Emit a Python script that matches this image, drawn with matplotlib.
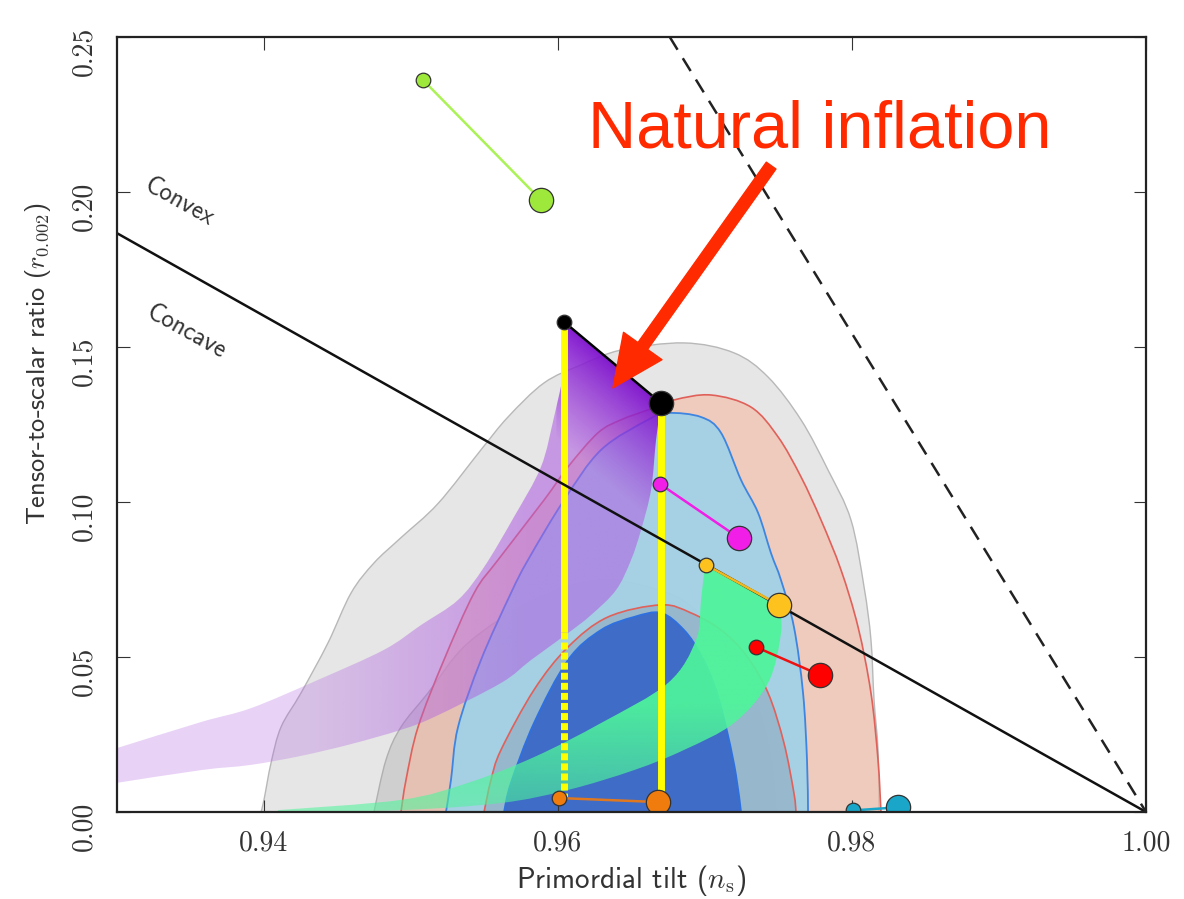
import numpy as np
import matplotlib
matplotlib.use('Agg')
import matplotlib.pyplot as plt
from matplotlib.colors import to_rgba
from matplotlib.path import Path
from matplotlib.patches import PathPatch, FancyArrowPatch, ArrowStyle

plt.rcParams['mathtext.fontset'] = 'cm'

# axis ticks
ns_ticks = [0.94, 0.96, 0.98, 1.00]
ns_tick_labels = ['0.94', '0.96', '0.98', '1.00']
r_ticks = [0.00, 0.05, 0.10, 0.15, 0.20, 0.25]
r_tick_labels = ['0.00', '0.05', '0.10', '0.15', '0.20', '0.25']

# confidence contours (outline from bottom-left round to bottom-right)
gray95_ns = [0.9398, 0.9400, 0.94048, 0.94116, 0.94252, 0.94435, 0.94592, 0.94748, 0.9493, 0.95184,
             0.95476, 0.9566, 0.95905, 0.96156, 0.96429, 0.96857, 0.97197, 0.97429, 0.97653, 0.97837,
             0.97993, 0.98082, 0.98129, 0.9815, 0.98177, 0.98184]
gray95_r = [0.0, 0.0039, 0.0158, 0.0274, 0.0384, 0.0545, 0.0706, 0.0803, 0.0884, 0.0995,
            0.1168, 0.1274, 0.1384, 0.1442, 0.1490, 0.1513, 0.1481, 0.1403, 0.1265, 0.1103,
            0.0942, 0.0726, 0.0555, 0.0361, 0.0200, 0.0]
gray68_ns = [0.94748, 0.9483, 0.94932, 0.95116, 0.95388, 0.95837, 0.96293, 0.96748, 0.96973,
             0.97177, 0.97347, 0.97449, 0.97483]
gray68_r = [0.0, 0.0168, 0.0274, 0.0384, 0.0545, 0.0684, 0.0748, 0.0706, 0.0635,
            0.0523, 0.0361, 0.0168, 0.0]
red95_ns = [0.94932, 0.94966, 0.95048, 0.95224, 0.95429, 0.95592, 0.95905, 0.96068, 0.96272,
            0.96429, 0.96612, 0.96789, 0.97041, 0.97313, 0.97497, 0.97653, 0.97789, 0.97925,
            0.98041, 0.98129, 0.98177, 0.98197]
red95_r = [0.0, 0.0103, 0.0274, 0.0490, 0.0706, 0.0813, 0.1006, 0.1113, 0.1223,
           0.1265, 0.1297, 0.1329, 0.1345, 0.1306, 0.1210, 0.1081, 0.0942, 0.0781,
           0.0597, 0.0384, 0.0168, 0.0]
red68_ns = [0.95497, 0.95544, 0.95612, 0.95837, 0.96068, 0.9634, 0.96701, 0.96905, 0.97109,
            0.97279, 0.97429, 0.97537, 0.97605, 0.97619]
red68_r = [0.0, 0.0103, 0.0200, 0.0394, 0.0532, 0.0629, 0.0668, 0.0642, 0.0587,
           0.0506, 0.0384, 0.0223, 0.0061, 0.0]
blue95_ns = [0.95238, 0.95272, 0.9532, 0.95476, 0.9568, 0.95796, 0.96041, 0.96293, 0.96612,
             0.96748, 0.96973, 0.97109, 0.97245, 0.97361, 0.97449, 0.97517, 0.97605, 0.97667,
             0.97694, 0.97701]
blue95_r = [0.0, 0.0103, 0.0274, 0.0490, 0.0706, 0.0813, 0.1006, 0.1168, 0.1265,
            0.1287, 0.1274, 0.1223, 0.1071, 0.0965, 0.0835, 0.0748, 0.0597, 0.0384,
            0.0168, 0.0]
blue68_ns = [0.95633, 0.9568, 0.95837, 0.96068, 0.96293, 0.96517, 0.96701, 0.96857, 0.96973,
             0.97075, 0.97156, 0.97211, 0.97245]
blue68_r = [0.0, 0.0094, 0.0287, 0.0490, 0.0587, 0.0629, 0.0642, 0.0587, 0.0506,
            0.0394, 0.0248, 0.0119, 0.0]

# natural inflation band (purple): upper-left edge, then lower-right edge
purple_upper_ns = [0.93, 0.93571, 0.93912, 0.94367, 0.94816, 0.95068, 0.9532, 0.95497, 0.95701,
                   0.95884, 0.95973, 0.96034]
purple_upper_r = [0.0206, 0.0290, 0.0335, 0.0426, 0.0523, 0.0603, 0.0684, 0.0790, 0.0952,
                  0.1113, 0.1274, 0.1403]
purple_lower_ns = [0.96701, 0.96667, 0.96633, 0.96565, 0.96497, 0.96395, 0.96224, 0.96068, 0.95816,
                   0.95612, 0.95156, 0.94932, 0.94592, 0.94252, 0.93912, 0.93571, 0.93]
purple_lower_r = [0.1319, 0.1200, 0.1039, 0.0910, 0.0813, 0.0716, 0.0635, 0.0577, 0.0490,
                  0.0416, 0.0306, 0.0265, 0.0219, 0.0181, 0.0152, 0.0135, 0.0094]

# green band
green_upper_ns = [0.94095, 0.94932, 0.95388, 0.95837, 0.96293, 0.96748, 0.96939, 0.96973, 0.97]
green_upper_r = [0.0006, 0.0039, 0.0094, 0.0177, 0.0287, 0.0416, 0.0555, 0.0684, 0.0797]
green_lower_ns = [0.97503, 0.97517, 0.97429, 0.97197, 0.96857, 0.96517, 0.96068, 0.95612,
                  0.94932, 0.94095]
green_lower_r = [0.0668, 0.0577, 0.0416, 0.0287, 0.0200, 0.0135, 0.0071, 0.0029,
                 0.0006, 0.0]

# straight reference lines
concave_ns = [0.93, 1.00]
concave_r = [0.1867, 0.0]
dashed_ns = [0.9676, 1.00]
dashed_r = [0.25, 0.0]

# model predictions: (small point, big point)
pairs = {
    'lime':    ([0.95082, 0.95884], [0.2361, 0.1974], '#9de83a', '#aaf255'),
    'black':   ([0.96041, 0.96701], [0.1581, 0.1319], '#000000', '#000000'),
    'magenta': ([0.96694, 0.97231], [0.1058, 0.0884], '#f01ee6', '#f01ee6'),
    'amber':   ([0.97007, 0.97503], [0.0797, 0.0668], '#fdc21e', '#f0b820'),
    'red':     ([0.97347, 0.97782], [0.0532, 0.0442], '#ff0000', '#ee1111'),
    'teal':    ([0.98007, 0.98313], [0.0005, 0.0015], '#1aa6c8', '#1aa6c8'),
    'orange':  ([0.96007, 0.96680], [0.0045, 0.0032], '#f07c0e', '#e07820'),
}
yellow_dotted_below = 0.058

label_text = 'Natural inflation'
label_pos = (0.96204, 0.2142)
arrow_tail = (0.9745, 0.2085)
arrow_tip = (0.96374, 0.1368)


def smooth_piece(xs, ys):
    # Catmull-Rom through the read points, handed to matplotlib as cubic Bezier segments
    p = np.column_stack([xs, ys]).astype(float)
    verts, codes = [p[0]], [Path.LINETO]
    n = len(p)
    for i in range(n - 1):
        p0 = p[i - 1] if i > 0 else p[i]
        p3 = p[i + 2] if i + 2 < n else p[i + 1]
        verts += [p[i] + (p[i + 1] - p0) / 6, p[i + 1] - (p3 - p[i]) / 6, p[i + 1]]
        codes += [Path.CURVE4] * 3
    return verts, codes


def outline(*pieces):
    verts, codes = [], []
    for xs, ys, smooth in pieces:
        if smooth:
            v, c = smooth_piece(xs, ys)
        else:
            v, c = list(np.column_stack([xs, ys])), [Path.LINETO] * len(xs)
        verts += v
        codes += c
    codes[0] = Path.MOVETO
    verts.append(verts[0])
    codes.append(Path.CLOSEPOLY)
    return Path(np.array(verts), codes)


fig = plt.figure(figsize=(11.84, 8.99), dpi=100)
ax = fig.add_axes([0.0988, 0.0968, 0.8691, 0.8621])

# contours
contours = [
    (gray95_ns, gray95_r, '#e6e6e6', '#b8b8b8', 1.0),
    (gray68_ns, gray68_r, '#cfcfcf', '#b0b0b0', 1.0),
    (red95_ns, red95_r, to_rgba('#f5b9a3', 0.6), '#e0605a', 1.2),
    (blue95_ns, blue95_r, to_rgba('#a0d1e8', 0.92), '#3d85e0', 1.3),
    (red68_ns, red68_r, to_rgba('#78829a', 0.3), '#e0605a', 1.2),
    (blue68_ns, blue68_r, '#3e6cc6', '#2f70e0', 1.3),
]
for k, (xs, ys, fc, ec, lw) in enumerate(contours):
    ax.add_patch(PathPatch(outline((xs, ys, True)), facecolor=fc, edgecolor=ec, lw=lw, zorder=1 + 0.1 * k))

bns, br = pairs['black'][0], pairs['black'][1]
ons, orr = pairs['orange'][0], pairs['orange'][1]

# purple band with a gradient fill clipped to its outline
band = PathPatch(outline((purple_upper_ns, purple_upper_r, True),
                         ([bns[0]], [br[0]], False),
                         (purple_lower_ns, purple_lower_r, True)),
                 facecolor='none', edgecolor='none', transform=ax.transData)
ax.add_patch(band)
gx = np.linspace(0.93, 0.968, 500)
gy = np.linspace(0.0, 0.16, 500)
GX, GY = np.meshgrid(gx, gy)
slope = (br[1] - br[0]) / (bns[1] - bns[0])
line_r = br[0] + slope * (GX - bns[0])
near = np.clip(1 - (line_r - GY) / 0.04, 0, 1) * (GX > bns[0] - 0.0005)
alpha = 0.28 + 0.3 * np.clip((GX - 0.943) / 0.015, 0, 1)
base = np.array([175, 95, 225]) / 255
deep = np.array([125, 15, 205]) / 255
rgba = np.zeros(GX.shape + (4,))
rgba[..., :3] = base * (1 - near[..., None]) + deep * near[..., None]
rgba[..., 3] = alpha * (1 - near) + 0.95 * near
img = ax.imshow(rgba, extent=[gx[0], gx[-1], gy[0], gy[-1]], origin='lower', aspect='auto',
                interpolation='bilinear', zorder=4)
img.set_clip_path(band)

# green band, brighter at the top
green = PathPatch(outline((green_upper_ns, green_upper_r, True),
                          (green_lower_ns, green_lower_r, True)),
                  facecolor='none', edgecolor='none', transform=ax.transData)
ax.add_patch(green)
hx = np.linspace(0.94, 0.976, 50)
hy = np.linspace(0.0, 0.08, 300)
HX, HY = np.meshgrid(hx, hy)
grgba = np.zeros(HX.shape + (4,))
grgba[..., :3] = np.array([78, 245, 155]) / 255
grgba[..., 3] = 0.55 + 0.38 * np.clip(HY / 0.035, 0, 1)
gimg = ax.imshow(grgba, extent=[hx[0], hx[-1], hy[0], hy[-1]], origin='lower', aspect='auto',
                 interpolation='bilinear', zorder=5)
gimg.set_clip_path(green)

# yellow lines straight down from the black points to the orange points' level
ax.plot([bns[0], bns[0]], [br[0], yellow_dotted_below], color='#ffff00', lw=5,
        solid_capstyle='butt', zorder=6)
ax.plot([bns[0], bns[0]], [yellow_dotted_below, orr[0]], color='#ffff00', lw=5,
        linestyle=(0, (1.0, 0.45)), zorder=6)
ax.plot([bns[1], bns[1]], [br[1], orr[1]], color='#ffff00', lw=5, solid_capstyle='butt', zorder=6)

# convex / concave lines
ax.plot(concave_ns, concave_r, color='#111111', lw=1.8, zorder=7)
ax.plot(dashed_ns, dashed_r, color='#222222', lw=1.8, linestyle=(0, (6, 4)), zorder=7)
ax.text(0.93422, 0.1965, 'Convex', rotation=-29.3, rotation_mode='anchor', ha='center', va='center',
        fontsize=18, family='cmss10', color='#333333')
ax.text(0.93469, 0.1548, 'Concave', rotation=-29.3, rotation_mode='anchor', ha='center', va='center',
        fontsize=18, family='cmss10', color='#333333')

# model points
for name, (xs, ys, fc, lc) in pairs.items():
    ax.plot(xs, ys, color=lc, lw=1.8, zorder=8)
    ax.plot(xs[0], ys[0], 'o', ms=10.5, mfc=fc, mec='#333333', mew=0.9, zorder=9)
    ax.plot(xs[1], ys[1], 'o', ms=17.5, mfc=fc, mec='#333333', mew=0.9, zorder=9)

# annotation
ax.text(label_pos[0], label_pos[1], label_text, color='#ff2a00', fontsize=48,
        family='Liberation Sans', ha='left', va='baseline', zorder=11)
arrow = FancyArrowPatch(arrow_tail, arrow_tip, transform=ax.transData,
                        arrowstyle=ArrowStyle.Simple(head_length=37, head_width=34, tail_width=8.5),
                        mutation_scale=1, shrinkA=0, shrinkB=0, color='#ff2a00', zorder=11)
ax.add_patch(arrow)

ax.set_xlim(0.93, 1.00)
ax.set_ylim(0.0, 0.25)
ax.set_xticks(ns_ticks, ns_tick_labels, fontfamily='cmr10', fontsize=20, color='#333333')
ax.set_yticks(r_ticks, r_tick_labels, fontfamily='cmr10', fontsize=20, color='#333333')
ax.tick_params(direction='in', length=9, width=0.8, top=True, right=True, colors='#333333')
ax.tick_params(axis='x', pad=13)
ax.tick_params(axis='y', pad=14, labelrotation=90)
for s in ax.spines.values():
    s.set_linewidth(1.6)
    s.set_color('#222222')
    s.set_zorder(12)

ax.set_xlabel(r'Primordial tilt ($n_\mathrm{s}$)', fontfamily='cmss10', fontsize=21, color='#333333')
ax.set_ylabel(r'Tensor-to-scalar ratio ($r_{0.002}$)', fontfamily='cmss10', fontsize=19, color='#333333')
ax.xaxis.set_label_coords(0.5, -0.066)
ax.yaxis.set_label_coords(-0.062, 0.579)

fig.savefig('out.png', dpi=100)
